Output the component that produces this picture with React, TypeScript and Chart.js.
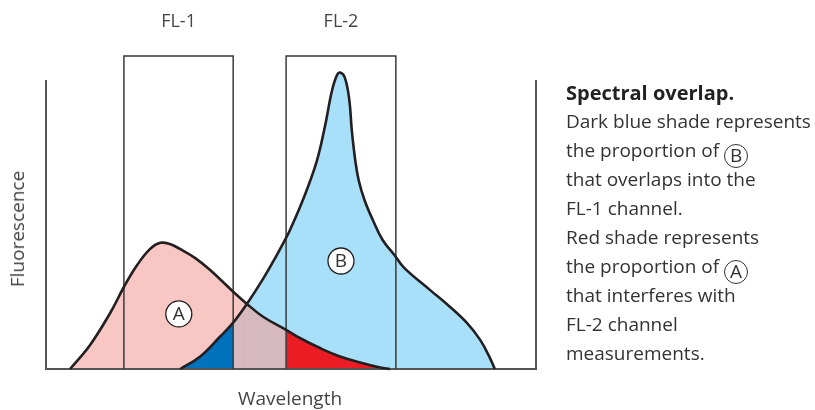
import React, { useEffect, useRef } from "react";
import { Chart, registerables } from "chart.js";

Chart.register(...registerables);

// Curve A (pink emission spectrum)
const A_X = [4.9, 9.0, 13.1, 15.9, 18.6, 21.2, 23.3, 25.3, 27.4, 30.4, 33.5, 38.2, 41.0, 44.3, 49.0, 51.8, 55.9, 60.0, 64.1, 68.2, 70.2];
const A_Y = [0, 7.7, 17.9, 26.2, 33.2, 38.3, 40.3, 39.9, 38.3, 35.5, 31.6, 24.7, 20.8, 16.7, 12.5, 9.9, 6.7, 4.0, 2.1, 0.5, 0];

// Curve B (blue emission spectrum)
const B_X = [27.4, 31.4, 35.5, 38.2, 41.0, 44.3, 47.1, 49.0, 49.8, 52.5, 55.2, 56.9, 58.3, 59.3, 60.0, 61.0, 61.9, 62.4, 63.1, 63.8, 65.0, 66.7, 68.7, 71.1, 73.1, 78.4, 82.4, 85.9, 88.6, 90.3, 91.6];
const B_Y = [0, 3.9, 10.3, 14.8, 20.8, 28.8, 36.4, 41.9, 44.4, 54.3, 66.1, 77.3, 88.5, 93.6, 94.7, 93.0, 85.9, 76.4, 66.8, 60.4, 54.0, 47.6, 41.2, 36.4, 32.3, 25.2, 19.9, 14.7, 9.3, 4.5, 0];

// Detector channels
const CHANNEL_LABELS = ["FL-1", "FL-2"];
const FL1 = [15.9, 38.2];
const FL2 = [49.0, 71.4];
const RECT_TOP = 100;
const AXIS_TOP = 92.3;
const X_RANGE = [0, 100];
const CROSS_X = 41.0;

// Circled curve labels
const CIRCLE_LABELS = ["A", "B"];
const CIRCLE_X = [27.1, 60.2];
const CIRCLE_Y = [17.6, 34.5];

const PINK = "#f8c7c3";
const LIGHT_BLUE = "#a9e0f9";
const DARK_BLUE = "#0071bc";
const MAUVE = "#d6b9bf";
const RED = "#ec1c24";
const CURVE = "#231f20";
const FONT = '"Open Sans", "Noto Sans", sans-serif';
const TENSION = 0.4;

const pts = (xs: number[], ys: number[]) => xs.map((x, i) => ({ x, y: ys[i] }));
const rect = (r: number[]) => [
  { x: r[0], y: 0 },
  { x: r[0], y: RECT_TOP },
  { x: r[1], y: RECT_TOP },
  { x: r[1], y: 0 },
];

function Circled({ t }: { t: string }) {
  return (
    <span
      style={{
        display: "inline-flex",
        alignItems: "center",
        justifyContent: "center",
        boxSizing: "border-box",
        width: 24,
        height: 24,
        border: "1.3px solid #333",
        borderRadius: "50%",
        verticalAlign: "-5px",
        fontSize: 19,
        lineHeight: "22px",
        paddingBottom: 1,
      }}
    >
      {t}
    </span>
  );
}

const LINE: React.CSSProperties = { height: 29, lineHeight: "29px", overflow: "visible" };

export default function App() {
  const ref = useRef<HTMLCanvasElement>(null);

  useEffect(() => {
    if (!ref.current) return;
    const labelPlugin = {
      id: "curveLabels",
      afterDatasetsDraw(chart: any) {
        const { ctx } = chart;
        const xs = chart.scales.x;
        const ys = chart.scales.y;
        ctx.save();
        ctx.textAlign = "center";
        ctx.textBaseline = "middle";
        ctx.fillStyle = "#444";
        ctx.font = `18px ${FONT}`;
        [FL1, FL2].forEach((r, i) => {
          ctx.fillText(
            CHANNEL_LABELS[i],
            xs.getPixelForValue((r[0] + r[1]) / 2),
            ys.getPixelForValue(RECT_TOP) - 34
          );
        });
        CIRCLE_LABELS.forEach((t, i) => {
          const px = xs.getPixelForValue(CIRCLE_X[i]);
          const py = ys.getPixelForValue(CIRCLE_Y[i]);
          ctx.beginPath();
          ctx.arc(px, py, 13, 0, Math.PI * 2);
          ctx.fillStyle = "#fff";
          ctx.fill();
          ctx.lineWidth = 1.3;
          ctx.strokeStyle = CURVE;
          ctx.stroke();
          ctx.fillStyle = "#333";
          ctx.font = `19px ${FONT}`;
          ctx.fillText(t, px, py + 1);
        });
        ctx.restore();
      },
    };

    const aData = pts(A_X, A_Y);
    const bData = pts(B_X, B_Y);

    const chart = new Chart(ref.current, {
      type: "line",
      data: {
        datasets: [
          {
            // A overlay: mauve between crossing and FL-2, red inside FL-2
            data: aData,
            borderWidth: 0,
            borderColor: "rgba(0,0,0,0)",
            backgroundColor: "rgba(0,0,0,0)",
            fill: "origin",
            pointRadius: 0,
            tension: TENSION,
            segment: {
              backgroundColor: (c: any) => {
                const x0 = c.p0.parsed.x;
                const x1 = c.p1.parsed.x;
                if (x0 >= CROSS_X && x1 <= FL2[0]) return MAUVE;
                if (x0 >= FL2[0] && x1 <= FL2[1]) return RED;
                return "rgba(0,0,0,0)";
              },
            },
          },
          {
            data: bData,
            borderColor: CURVE,
            borderWidth: 2.6,
            backgroundColor: LIGHT_BLUE,
            fill: "origin",
            pointRadius: 0,
            tension: TENSION,
            segment: {
              backgroundColor: (c: any) => {
                const x0 = c.p0.parsed.x;
                const x1 = c.p1.parsed.x;
                if (x0 >= FL1[0] && x1 <= FL1[1]) return DARK_BLUE;
                if (x0 >= FL1[1] && x1 <= CROSS_X) return MAUVE;
                return LIGHT_BLUE;
              },
            },
          },
          {
            data: aData,
            borderColor: CURVE,
            borderWidth: 2.6,
            backgroundColor: PINK,
            fill: "origin",
            pointRadius: 0,
            tension: TENSION,
          },
          {
            data: rect(FL1),
            borderColor: "#3a3a3a",
            borderWidth: 1.5,
            fill: false,
            pointRadius: 0,
            tension: 0,
          },
          {
            data: rect(FL2),
            borderColor: "#3a3a3a",
            borderWidth: 1.5,
            fill: false,
            pointRadius: 0,
            tension: 0,
          },
          {
            data: [
              { x: X_RANGE[0], y: AXIS_TOP },
              { x: X_RANGE[0], y: 0 },
              { x: X_RANGE[1], y: 0 },
              { x: X_RANGE[1], y: AXIS_TOP },
            ],
            borderColor: "#555",
            borderWidth: 2,
            fill: false,
            pointRadius: 0,
            tension: 0,
          },
        ] as any,
      },
      options: {
        animation: false,
        responsive: false,
        events: [],
        layout: { padding: { left: 46, right: 279, top: 56, bottom: 41 } },
        scales: {
          x: { type: "linear", min: X_RANGE[0], max: X_RANGE[1], display: false },
          y: { type: "linear", min: 0, max: RECT_TOP, display: false },
        },
        plugins: {
          legend: { display: false },
          tooltip: { enabled: false },
          filler: { drawTime: "beforeDatasetsDraw" },
        },
        datasets: { line: { clip: false } as any },
      } as any,
      plugins: [labelPlugin],
    });
    return () => chart.destroy();
  }, []);

  return (
    <div
      style={{
        position: "absolute",
        left: 0,
        top: 0,
        width: 815,
        height: 410,
        background: "#fff",
        fontFamily: FONT,
      }}
    >
      <canvas ref={ref} width={815} height={410} style={{ position: "absolute", left: 0, top: 0 }} />
      <div
        style={{
          position: "absolute",
          left: 17,
          top: 229,
          transform: "translate(-50%, -50%) rotate(-90deg)",
          whiteSpace: "nowrap",
          fontSize: 19,
          color: "#444",
        }}
      >
        Fluorescence
      </div>
      <div
        style={{
          position: "absolute",
          left: 290,
          top: 398,
          transform: "translate(-50%, -50%)",
          whiteSpace: "nowrap",
          fontSize: 19,
          color: "#444",
        }}
      >
        Wavelength
      </div>
      <div
        style={{
          position: "absolute",
          left: 566,
          top: 78,
          fontSize: 19,
          color: "#333",
          whiteSpace: "nowrap",
        }}
      >
        <div style={{ ...LINE, fontWeight: 700, color: "#222", fontSize: 20 }}>Spectral overlap.</div>
        <div style={LINE}>Dark blue shade represents</div>
        <div style={LINE}>
          the proportion of <Circled t="B" />
        </div>
        <div style={LINE}>that overlaps into the</div>
        <div style={LINE}>FL-1 channel.</div>
        <div style={LINE}>Red shade represents</div>
        <div style={LINE}>
          the proportion of <Circled t="A" />
        </div>
        <div style={LINE}>that interferes with</div>
        <div style={LINE}>FL-2 channel</div>
        <div style={LINE}>measurements.</div>
      </div>
    </div>
  );
}
